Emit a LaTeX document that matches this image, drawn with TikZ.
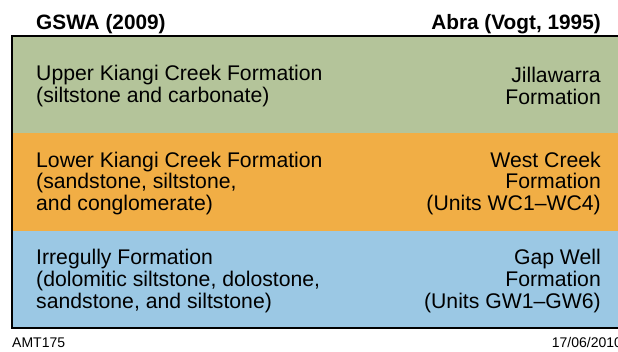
\documentclass[tikz,border=0pt]{standalone}
\usepackage{fontspec}
\setmainfont{Liberation Sans}
\usepackage{xcolor}
\usetikzlibrary{positioning}
\definecolor{UpperGreen}{RGB}{180,196,154}
\definecolor{LowerOrange}{RGB}{241,174,69}
\definecolor{IrregBlue}{RGB}{155,200,228}

\begin{document}
\begin{tikzpicture}[x=1pt,y=1pt,
  band/.style={minimum height=97.33pt,minimum width=606pt,inner sep=0pt,outer sep=0pt},
  lefttext/.style={anchor=west,align=left,inner sep=0pt,font=\fontsize{21.2}{21.8}\selectfont},
  righttext/.style={anchor=east,align=right,inner sep=0pt,font=\fontsize{21.2}{21.8}\selectfont},
  head/.style={anchor=base,inner sep=0pt,font=\fontsize{20.8}{24}\selectfont\bfseries},
  foot/.style={anchor=base west,inner sep=0pt,font=\fontsize{14}{16}\selectfont}]
  \useasboundingbox (0,0) rectangle (618,-352);
  \clip (0,0) rectangle (618,-352);
  \fill[white] (0,0) rectangle (618,-352);

  % formation bands
  \node[band,fill=UpperGreen,anchor=north west] (upper) at (12,-36) {};
  \node[band,fill=LowerOrange,below=0pt of upper] (lower) {};
  \node[band,fill=IrregBlue,below=0pt of lower] (irreg) {};
  \draw[line width=2.6pt] (upper.north east) -- (upper.north west) -- (irreg.south west) -- (irreg.south east);

  % column headings
  \node[head,anchor=base west] (gswa) at ([xshift=24pt,yshift=6.7pt]upper.north west) {GSWA (2009)};
  \node[head,anchor=base east] (abra) at ([xshift=-17pt,yshift=6.7pt]upper.north east) {Abra (Vogt, 1995)};

  % GSWA names
  \node[lefttext] (upperL) at ([xshift=24pt,yshift=-1.5pt]upper.west) {Upper Kiangi Creek Formation\\(siltstone and carbonate)};
  \node[lefttext] (lowerL) at ([xshift=24pt,yshift=-1.5pt]lower.west) {Lower Kiangi Creek Formation\\(sandstone, siltstone,\\and conglomerate)};
  \node[lefttext] (irregL) at ([xshift=24pt,yshift=-1.5pt]irreg.west) {Irregully Formation\\(dolomitic siltstone, dolostone,\\sandstone, and siltstone)};

  % Abra names
  \node[righttext] (upperR) at ([xshift=-17pt,yshift=-1.5pt]upper.east) {Jillawarra\\Formation};
  \node[righttext] (lowerR) at ([xshift=-17pt,yshift=-1.5pt]lower.east) {West Creek\\Formation\\(Units WC1--WC4)};
  \node[righttext] (irregR) at ([xshift=-17pt,yshift=-1.5pt]irreg.east) {Gap Well\\Formation\\(Units GW1--GW6)};

  % footer
  \node[foot] (amt) at ([yshift=-19.7pt]irreg.south west) {AMT175};
  \node[foot] (date) at (551.7,-347.7) {17/06/2010};
\end{tikzpicture}
\end{document}
